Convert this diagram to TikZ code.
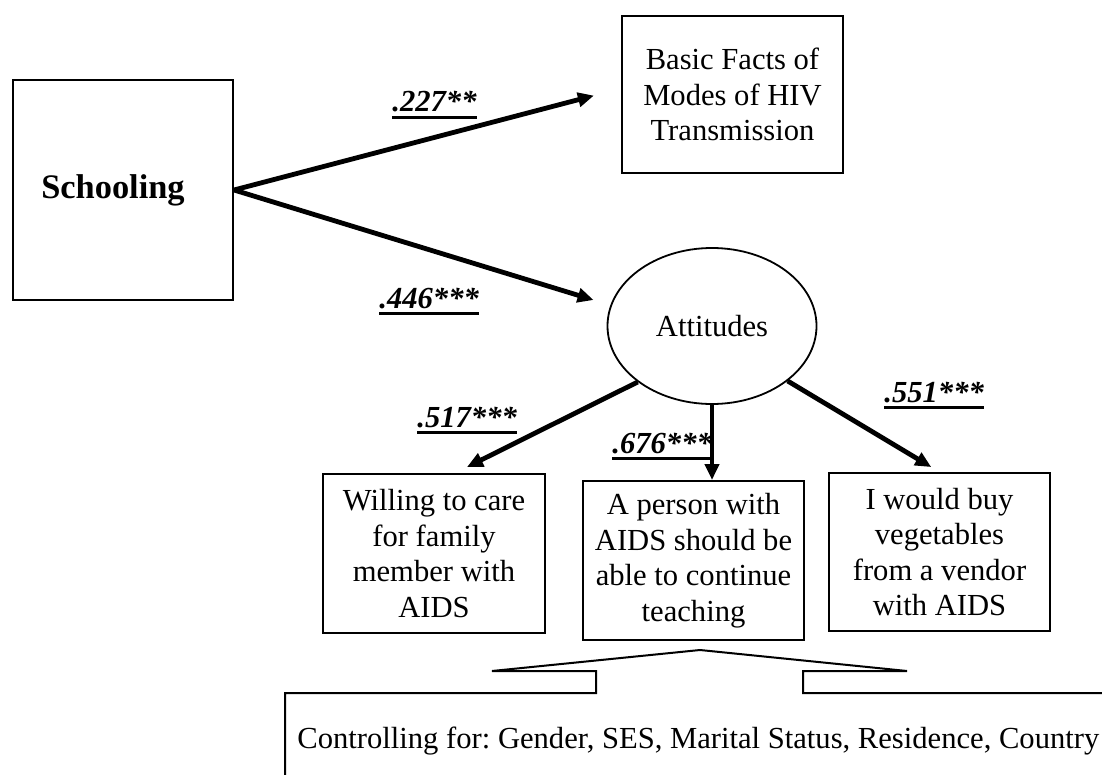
\documentclass[tikz,border=0pt]{standalone}
\usepackage{fontspec}
\setmainfont{Liberation Serif}
\usepackage{tikz}
\usetikzlibrary{arrows.meta, shapes.geometric}
\newcommand{\coef}[1]{\vtop{\hbox{\bfseries\itshape #1}\kern1.8pt\hrule height 1.3pt}}
\frenchspacing

\begin{document}
\begin{tikzpicture}[
    x=0.5pt, y=-0.5pt,
    box/.style={rectangle, draw, line width=1pt, inner sep=0pt, align=center,
        font=\fontsize{15.3}{17.8}\selectfont},
    oval/.style={ellipse, draw, line width=0.9pt, inner sep=0pt,
        font=\fontsize{15.3}{17.8}\selectfont},
    coeflabel/.style={inner sep=0pt, anchor=base west, font=\fontsize{15.3}{17.8}\selectfont},
    arrow/.style={-{Triangle[length=8pt, width=7pt]}, line width=2.4pt}
]
\useasboundingbox (0,0) rectangle (1102,775);

\node[box, minimum width=110pt, minimum height=110pt,
    font=\fontsize{17.2}{20}\selectfont\bfseries] (school) at (123,190) {Schooling\hspace*{10pt}};
\node[box, minimum width=110.5pt, minimum height=78.5pt] (facts) at (732.5,94.5) {Basic Facts of\\Modes of HIV\\Transmission};
\node[oval, minimum width=104.5pt, minimum height=78pt] (att) at (712,326) {Attitudes};
\node[box, minimum width=111pt, minimum height=79.5pt] (will)  at (434,553.5) {Willing to care\\for family\\member with\\AIDS};
\node[box, minimum width=110.5pt, minimum height=79.5pt] (teach) at (693.5,560.5) {A person with\\AIDS should be\\able to continue\\teaching};
\node[box, minimum width=110.5pt, minimum height=79pt] (buy)   at (939.5,552) {I would buy\\vegetables\\from a vendor\\with AIDS};

\node[coeflabel] (c227) at (392,112) {\coef{.227**}};
\node[coeflabel] (c446) at (379,308) {\coef{.446***}};
\node[coeflabel] (c517) at (417,427) {\coef{.517***}};
\node[coeflabel] (c676) at (612,453) {\coef{.676***}};
\node[coeflabel] (c551) at (884,402) {\coef{.551***}};

\draw[arrow, shorten >=14pt] (school.east) -- ([yshift=3pt]facts.west);
\draw[arrow, shorten >=6.8pt] (school.east) -- ([yshift=11pt]att.west);
\draw[arrow, shorten >=6.7pt] (att.217) -- ([xshift=10.5pt]will.north);
\draw[arrow, line width=2pt] (att.south) -- (att.south |- teach.north);
\draw[arrow, shorten >=4.8pt] (att.-36) -- (buy.north);

% callout for the controls
\node[anchor=base west, inner sep=0pt, font=\fontsize{15.3}{17.8}\selectfont] (ctrl) at (297,748)
    {Controlling for: Gender, SES, Marital Status, Residence, Country};
\draw[line width=1pt] (1102,693) -- (803,693) -- (803,671) -- (907,671) -- (700,650)
    -- (492,671) -- (596,671) -- (596,693) -- (285,693) -- (285,775);
\end{tikzpicture}
\end{document}
